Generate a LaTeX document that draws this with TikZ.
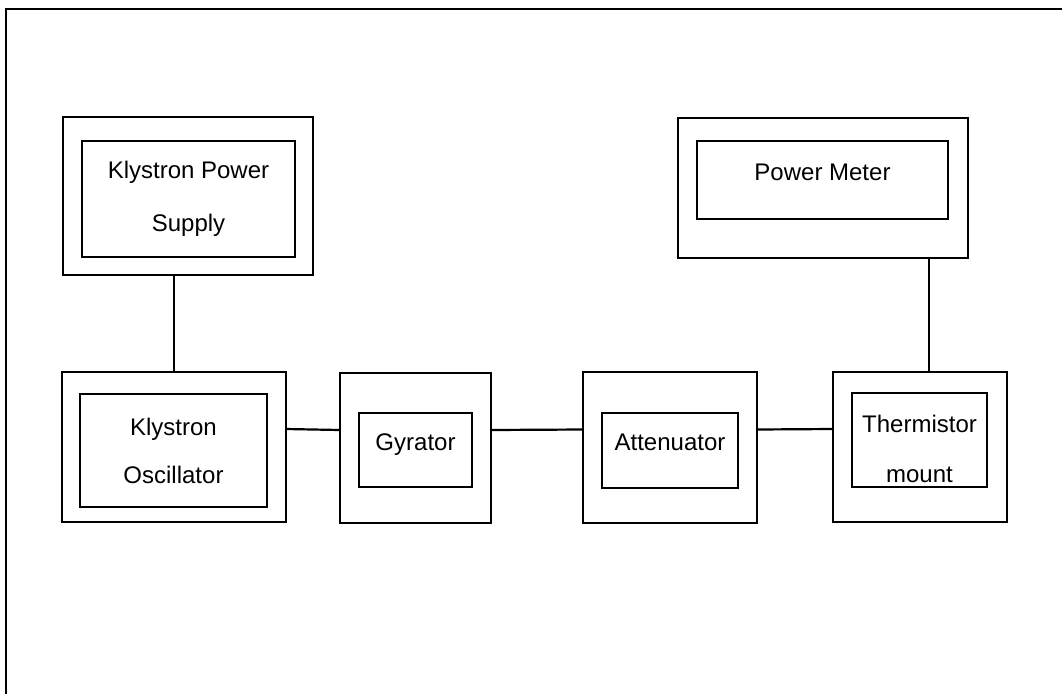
\documentclass[tikz,border=0pt]{standalone}
\usepackage{fontspec}
\setmainfont{Liberation Sans}
\usetikzlibrary{calc}

\begin{document}
\begin{tikzpicture}[x=1pt,y=-1pt,line width=2.2pt,
  outerbox/.style={draw,rectangle,inner sep=0pt,outer sep=0pt},
  innerbox/.style={draw,rectangle,inner sep=0pt,outer sep=0pt,align=center,font=\fontsize{24}{50}\selectfont},
  oneline/.style={text depth=16pt}]
\useasboundingbox (0,0) rectangle (1062,694);
\def\hy{18pt} % horizontal links sit above the box centres
% frame (top and left only)
\draw (6,694) -- (6,9) -- (1062,9);
% outer boxes
\node[outerbox,minimum width=250pt,minimum height=158pt] (kps) at (188,196) {};
\node[outerbox,minimum width=290pt,minimum height=140pt] (pm) at (823,188) {};
\node[outerbox,minimum width=224pt,minimum height=150pt] (ko) at (174,447) {};
\node[outerbox,minimum width=151pt,minimum height=150pt] (gy) at (415.5,448) {};
\node[outerbox,minimum width=174pt,minimum height=151pt] (att) at (670,447.5) {};
\node[outerbox,minimum width=174pt,minimum height=150pt] (tm) at (920,447) {};
% inner boxes with labels
\node[innerbox,minimum width=213pt,minimum height=116pt,font=\fontsize{24}{53}\selectfont] (kpsin) at (188.5,199) {Klystron Power\\Supply};
\node[innerbox,oneline,minimum width=251pt,minimum height=78pt] (pmin) at (822.5,180) {Power Meter};
\node[innerbox,minimum width=187pt,minimum height=113pt,font=\fontsize{24}{48}\selectfont] (koin) at (173.5,450.5) {Klystron\\Oscillator};
\node[innerbox,oneline,minimum width=113pt,minimum height=74pt] (gyin) at (415.5,450) {Gyrator};
\node[innerbox,oneline,minimum width=136pt,minimum height=75pt] (attin) at (670,450.5) {Attenuator};
\node[innerbox,text height=85pt,minimum width=135pt,minimum height=94pt] (tmin) at (919.5,440) {Thermistor\\mount};
% links
\draw (ko.north) -- (ko.north |- kps.south);
\draw ([xshift=9pt]tm.north) -- ([xshift=9pt]tm.north |- pm.south);
\draw ([yshift=\hy]ko.east) -- ([yshift=\hy]gy.west);
\draw ([yshift=\hy]gy.east) -- ([yshift=\hy]att.west);
\draw ([yshift=\hy]att.east) -- ([yshift=\hy]tm.west);
\end{tikzpicture}
\end{document}
